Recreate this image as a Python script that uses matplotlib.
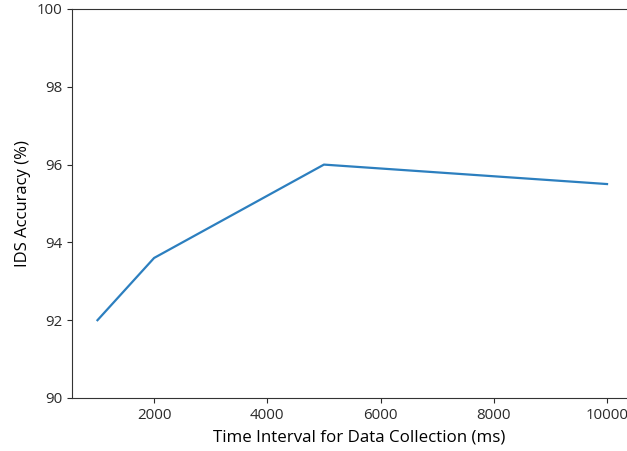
import matplotlib
matplotlib.use("Agg")
import matplotlib.pyplot as plt

interval_ms = [1000, 2000, 5000, 10000]
accuracy = [92.0, 93.6, 96.0, 95.5]
y_ticks = [90, 92, 94, 96, 98, 100]

plt.rcParams['font.family'] = ['Open Sans', 'DejaVu Sans']

fig = plt.figure(figsize=(6.27, 4.51), dpi=100)
# right spine falls just outside the picture in the original
ax = fig.add_axes([72 / 627, 1 - 398 / 451, (632.5 - 72) / 627, (398 - 9) / 451])
ax.plot(interval_ms, accuracy, color='#2c7fbf', linewidth=1.6)

ax.set_ylim(90, 100)
ax.set_yticks(y_ticks)
ax.set_xticks([2000, 4000, 6000, 8000, 10000])
ax.tick_params(labelsize=10.8, colors='#2a2a2a')
for s in ax.spines.values():
    s.set_color('#333333')
ax.set_xlabel('Time Interval for Data Collection (ms)', fontsize=12.2)
ax.xaxis.set_label_coords(0.513, -0.08)
ax.set_ylabel('IDS Accuracy (%)', fontsize=12)

fig.savefig('out.png', dpi=100)
